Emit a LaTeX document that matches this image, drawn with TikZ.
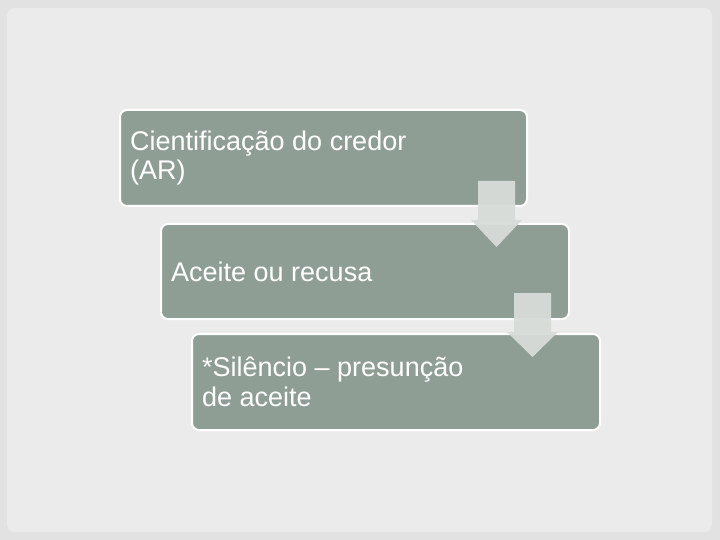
\documentclass[tikz,border=0pt]{standalone}
\usepackage{fontspec}
\setmainfont{Liberation Sans}
\definecolor{outerbg}{HTML}{E2E2E2}
\definecolor{innerbg}{HTML}{EBEBEB}
\definecolor{boxfill}{HTML}{8F9E94}
\definecolor{arrowfill}{HTML}{D8DCD8}
\tikzset{
  stepbox/.style={draw=white, line width=2pt, fill=boxfill, rounded corners=7pt},
  steptext/.style={text=white, align=left, anchor=west, inner sep=0pt, font=\fontsize{27pt}{29.5pt}\selectfont},
  flowarrow/.style={fill=arrowfill, draw=none, opacity=0.95}
}
\begin{document}
\begin{tikzpicture}[x=1pt,y=-1pt]
\useasboundingbox (0,0) rectangle (720,540);
\fill[outerbg] (0,0) rectangle (720,540);
\fill[innerbg, rounded corners=8pt] (7,8) rectangle (712,532);
% boxes
\draw[stepbox] (120,110) rectangle (527,206);
\draw[stepbox] (161,224) rectangle (569,319);
\draw[stepbox] (192,334) rectangle (600,430);
% arrows
\fill[flowarrow] (478,181) -- (515,181) -- (515,220) -- (522,220) -- (496.5,247) -- (471,220) -- (478,220) -- cycle;
\fill[flowarrow] (514,293) -- (551,293) -- (551,332) -- (558,332) -- (532.5,357) -- (507,332) -- (514,332) -- cycle;
% texts
\node[steptext] (t1) at (130,158) {Cientificação do credor\\(AR)};
\node[steptext] (t2) at (171,271.5) {Aceite ou recusa};
\node[steptext] (t3) at (202,382) {*Silêncio – presunção\\de aceite};
\end{tikzpicture}
\end{document}
